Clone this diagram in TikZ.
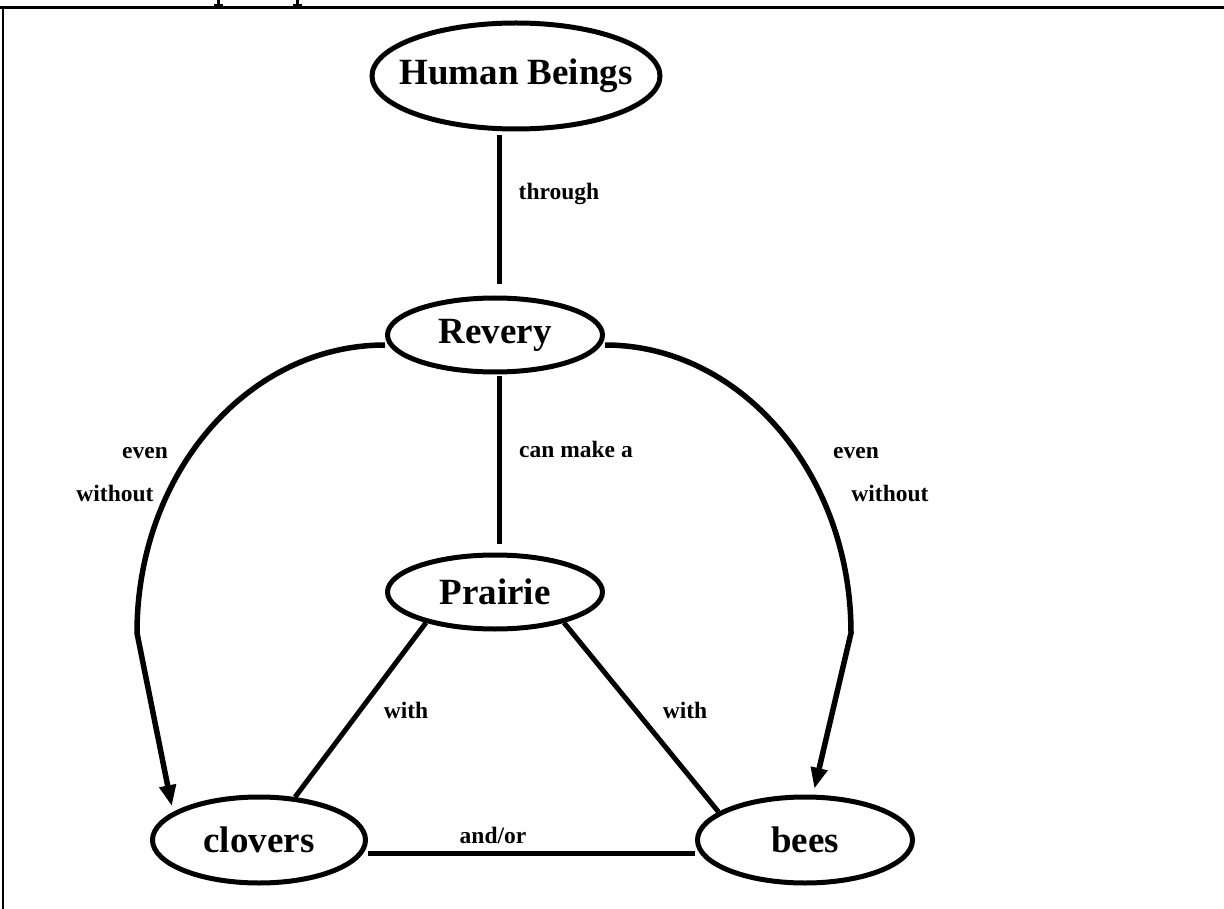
\documentclass[tikz,border=0pt]{standalone}
\usepackage{fontspec}
\setmainfont{Liberation Serif}
\usetikzlibrary{shapes.geometric,arrows.meta,calc}

\tikzset{
  concept/.style={draw, ellipse, line width=5pt, inner sep=0pt,
    font=\fontsize{37}{40}\selectfont\bfseries},
  link/.style={line width=5pt},
  tiplink/.style={line width=5.5pt, -{Triangle[length=21pt,width=16pt]}, shorten >=6pt},
  lbl/.style={anchor=base, inner sep=0pt, font=\fontsize{23.5}{26}\selectfont\bfseries},
}
% a label of zero width, so that the ellipse size is set by its minimum size alone
\newcommand{\zw}[1]{\makebox[0pt]{#1}}

\begin{document}
\begin{tikzpicture}[x=1pt,y=-1pt]
  \useasboundingbox (0,0) rectangle (1224,909);

  % frame lines
  \draw[line width=3pt] (0,7.5) -- (1224,7.5);
  \draw[line width=2pt] (2.5,7.5) -- (2.5,909);
  % remains of the heading above the frame
  \fill (216.5,0) rectangle (219.5,6);
  \fill (213.5,4) rectangle (222.5,6);
  \fill (295.5,0) rectangle (298.5,6);
  \fill (292.5,4) rectangle (301.5,6);

  % concepts
  \node[concept, minimum width=288pt, minimum height=106pt] (hb)  at (516,76)  {\zw{Human Beings}};
  \node[concept, minimum width=215pt, minimum height=74pt]  (rev) at (495,335) {\zw{Revery}};
  \node[concept, minimum width=215pt, minimum height=74pt]  (pra) at (495,592) {\zw{Prairie}};
  \node[concept, minimum width=213pt, minimum height=86pt]  (clo) at (259,840) {\zw{clovers}};
  \node[concept, minimum width=215pt, minimum height=86pt]  (bee) at (805,840) {\zw{bees}};

  % vertical links
  \draw[link, shorten <=4pt, shorten >=11pt]
    ([xshift=4pt]rev.north |- hb.south) -- ([xshift=4pt]rev.north);
  \draw[link, shorten <=2pt, shorten >=9pt]
    ([xshift=4pt]rev.south) -- ([xshift=4pt]rev.south |- pra.north);

  % triangle of links
  \draw[link] (pra.204) -- (clo.50);
  \draw[link] (pra.336) -- (bee.162);
  \draw[link] ([yshift=-13pt]clo.east) -- ([yshift=-13pt]bee.west);

  % arcs with arrows
  \coordinate (lc) at (137,633);
  \coordinate (rc) at (851,633);
  \draw[tiplink] ([yshift=-10pt]rev.west) .. controls (248,345) and (137,473) .. (lc) -- (clo.162);
  \draw[tiplink] ([yshift=-10pt]rev.east) .. controls (740,345) and (851,473) .. (rc) -- (bee.80);

  % link labels
  \node[lbl] (l1) at (559,200) {through};
  \node[lbl] (l2) at (576,457) {can make a};
  \node[lbl] (l3) at (145,458) {even};
  \node[lbl] (l4) at (115,501) {without};
  \node[lbl] (l5) at (856,458) {even};
  \node[lbl] (l6) at (890,501) {without};
  \node[lbl] (l7) at (406,718) {with};
  \node[lbl] (l8) at (685,718) {with};
  \node[lbl] (l9) at (493,843) {and/or};
\end{tikzpicture}
\end{document}
